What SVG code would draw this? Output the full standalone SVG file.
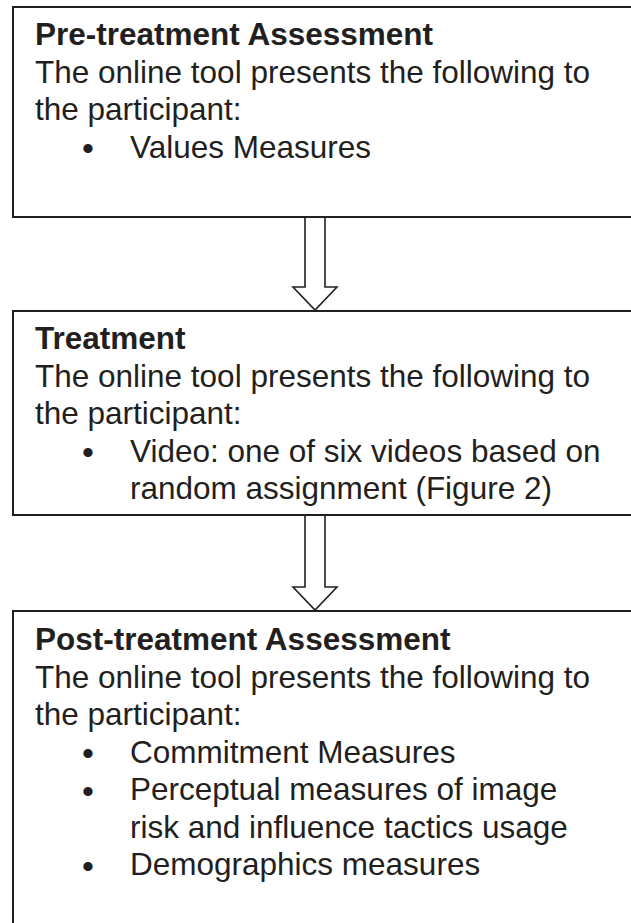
<svg xmlns="http://www.w3.org/2000/svg" width="631" height="923" viewBox="0 0 631 923">
<style>
.box{fill:#fff;stroke:#231f20;stroke-width:2}
.h{font-family:"Liberation Sans",Arial,sans-serif;font-weight:bold;font-size:31.5px;fill:#231f20}
.t{font-family:"Liberation Sans",Arial,sans-serif;font-size:31.5px;fill:#231f20}
.b{font-family:"Liberation Sans",Arial,sans-serif;font-size:34px;fill:#231f20}
.arrow{fill:#fff;stroke:#231f20;stroke-width:1.6;stroke-linejoin:miter}
</style>
<defs>
<clipPath id="clip2"><rect x="13" y="311" width="640" height="197"/></clipPath>
</defs>
<g id="connectors">
<path class="arrow" d="M305,217 V287 H293 L315,310 L337,287 H325 V217"/>
<path class="arrow" d="M305,515 V587 H293 L315,610 L337,587 H325 V515"/>
</g>
<g id="pre-treatment">
<rect class="box" x="13" y="7" width="640" height="210"/>
<text class="h" x="35" y="45">Pre-treatment Assessment</text>
<text class="t" x="35" y="82.5">The online tool presents the following to</text>
<text class="t" x="35" y="120">the participant:</text>
<text class="b" x="82" y="160">•</text>
<text class="t" x="130" y="157.5">Values Measures</text>
</g>
<g id="treatment">
<rect class="box" x="13" y="311" width="640" height="204"/>
<g clip-path="url(#clip2)">
<text class="h" x="35" y="349">Treatment</text>
<text class="t" x="35" y="386.5">The online tool presents the following to</text>
<text class="t" x="35" y="424">the participant:</text>
<text class="b" x="82" y="464">•</text>
<text class="t" x="130" y="461.5">Video: one of six videos based on</text>
<text class="t" x="130" y="499">random assignment (Figure 2)</text>
</g>
</g>
<g id="post-treatment">
<rect class="box" x="13" y="611" width="640" height="330"/>
<text class="h" x="35" y="650">Post-treatment Assessment</text>
<text class="t" x="35" y="687.5">The online tool presents the following to</text>
<text class="t" x="35" y="725">the participant:</text>
<text class="b" x="82" y="765">•</text>
<text class="t" x="130" y="762.5">Commitment Measures</text>
<text class="b" x="82" y="802.5">•</text>
<text class="t" x="130" y="800">Perceptual measures of image</text>
<text class="t" x="130" y="837.5">risk and influence tactics usage</text>
<text class="b" x="82" y="877.5">•</text>
<text class="t" x="130" y="875">Demographics measures</text>
</g>
</svg>
